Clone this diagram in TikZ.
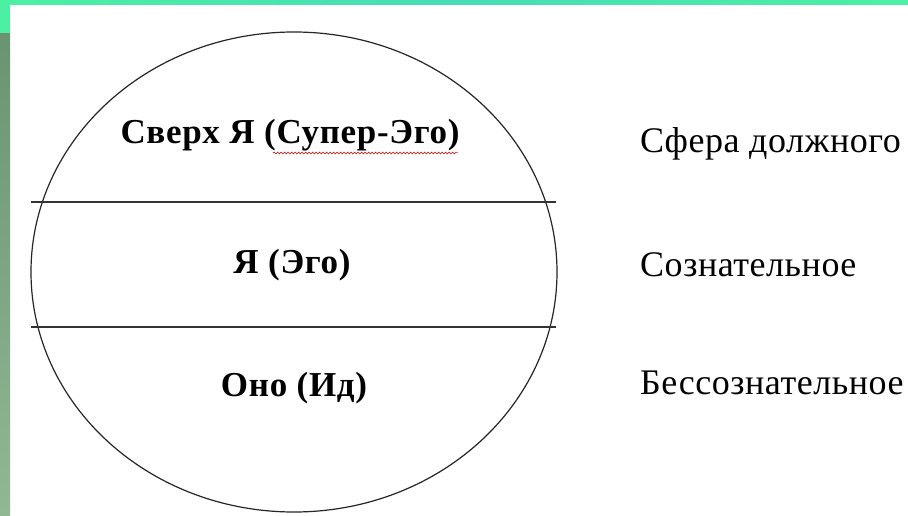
\documentclass[tikz,border=0pt]{standalone}
\usepackage{fontspec}
\setmainfont{Liberation Serif}
\usetikzlibrary{decorations.pathmorphing}
\definecolor{topgreen}{HTML}{4CF0A2}
\definecolor{topteal}{HTML}{46DDB8}
\definecolor{sidetop}{HTML}{6A9470}
\definecolor{sidebot}{HTML}{92B793}
\tikzset{
  part/.style={font=\bfseries\fontsize{35}{38}\selectfont\addfontfeature{LetterSpace=2}, anchor=base, inner sep=0pt},
  sphere/.style={font=\fontsize{36}{39}\selectfont\addfontfeature{LetterSpace=1.5}, anchor=base west, inner sep=0pt},
  divider/.style={line width=1.4pt, draw=black!80},
  outline/.style={draw=black!85, line width=1.2pt, ellipse, inner sep=0pt},
  squiggle/.style={draw=red!75!black, line width=0.5pt, decorate,
    decoration={snake, amplitude=1pt, segment length=3.5pt}}
}
\usetikzlibrary{shapes.geometric}
\begin{document}
\begin{tikzpicture}[x=1pt,y=-1pt]
\useasboundingbox (0,0) rectangle (908,516);
\fill[white] (0,0) rectangle (908,516);
% left strip
\shade[top color=sidetop, bottom color=sidebot] (0,33) rectangle (10,516);
% top strip
\shade[left color=topgreen, right color=topteal] (0,0) rectangle (454,5);
\shade[left color=topteal, right color=topgreen] (454,0) rectangle (908,5);
\fill[topgreen] (0,0) rectangle (10,33);
% ellipse
\node[outline, minimum width=526pt, minimum height=480pt] (ell) at (294,272) {};
% dividers
\coordinate (l1a) at (31,202);
\coordinate (l1b) at (556,202);
\coordinate (l2a) at (31,327);
\coordinate (l2b) at (556,327);
\draw[divider] (l1a) -- (l1b);
\draw[divider] (l2a) -- (l2b);
% part labels
\node[part] (super) at (290,144) {Сверх Я (Супер-Эго)};
\node[part] (ego) at (292,273) {Я (Эго)};
\node[part] (id) at (294,396) {Оно (Ид)};
\coordinate (sqa) at (273,153);
\coordinate (sqb) at (458,153);
\draw[squiggle] (sqa) -- (sqb);
% sphere labels
\node[sphere] (s1) at (640,153) {Сфера должного};
\node[sphere] (s2) at (640,276) {Сознательное};
\node[sphere] (s3) at (640,394) {Бессознательное};
\end{tikzpicture}
\end{document}
